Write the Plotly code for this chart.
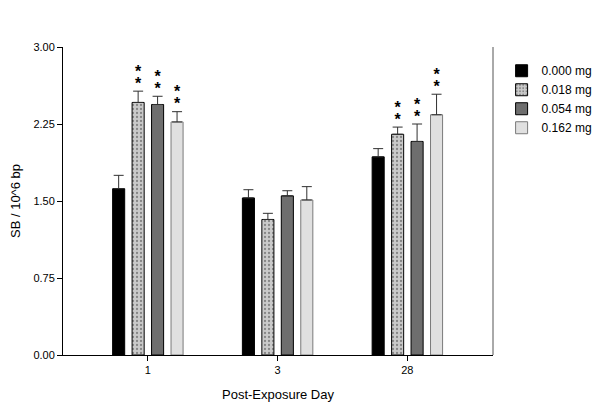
import plotly.graph_objects as go

days = ["1", "3", "28"]
series_names = ["0.000 mg", "0.018 mg", "0.054 mg", "0.162 mg"]
values = [
    [1.62, 1.53, 1.93],
    [2.46, 1.32, 2.15],
    [2.44, 1.55, 2.08],
    [2.27, 1.51, 2.34],
]
errors = [
    [0.13, 0.08, 0.08],
    [0.11, 0.06, 0.07],
    [0.08, 0.05, 0.17],
    [0.10, 0.13, 0.20],
]
# significance markers per series/day (True = two asterisks)
significant = [
    [False, False, False],
    [True, False, True],
    [True, False, True],
    [True, False, True],
]
y_ticks = [0, 0.75, 1.5, 2.25, 3.0]

STAR = "<span style='font-size:16px'><b>*</b></span>"
fills = ["#000000", "#c4c4c4", "#6e6e6e", "#e0e0e0"]
outlines = ["#000000", "#000000", "#000000", "#7a7a7a"]

fig = go.Figure()
for i, name in enumerate(series_names):
    pattern = dict(shape=".", fgcolor="#404040", bgcolor="#cacaca", size=4, solidity=0.25) if i == 1 else None
    fig.add_trace(go.Bar(
        x=days, y=values[i], name=name,
        marker=dict(color=fills[i], line=dict(color=outlines[i], width=1), pattern=pattern),
        error_y=dict(type="data", symmetric=False, array=errors[i], arrayminus=[0] * 3,
                     color="#303030", thickness=1, width=5),
        offsetgroup=str(i),
    ))
for i, name in enumerate(series_names):
    fig.add_trace(go.Scatter(
        x=days, y=[v + e for v, e in zip(values[i], errors[i])],
        text=[STAR + "<br>" + STAR if s else "" for s in significant[i]],
        mode="text", textposition="top center",
        textfont=dict(family="Liberation Sans, Arial", size=9.2, color="#000"),
        offsetgroup=str(i), showlegend=False, hoverinfo="skip", cliponaxis=False,
    ))

fig.update_layout(
    width=592, height=402,
    margin=dict(l=55, r=107, t=39, b=55, autoexpand=False),
    paper_bgcolor="white", plot_bgcolor="white",
    barmode="group", bargap=0.4, bargroupgap=0.38,
    scattermode="group", scattergap=0.4,
    font=dict(family="Liberation Sans, Arial", size=11, color="#000"),
    showlegend=True,
    legend=dict(x=1.02, y=0.97, xanchor="left", yanchor="top", bgcolor="rgba(0,0,0,0)",
                font=dict(size=12), tracegroupgap=0, itemwidth=30),
    xaxis=dict(type="category", range=[-0.654, 2.66], showline=True, linecolor="#000", linewidth=1,
               ticks="outside", ticklen=5, tickcolor="#000", automargin=False,
               tickfont=dict(size=11),
               title=dict(text="Post-Exposure Day", font=dict(size=13), standoff=14)),
    yaxis=dict(range=[0, 3.0], tickvals=y_ticks, tickformat=".2f", showline=True, linecolor="#000",
               linewidth=1, ticks="outside", ticklen=5, tickcolor="#000", showgrid=False, zeroline=False,
               automargin=False, tickfont=dict(size=11),
               title=dict(text="SB / 10^6 bp", font=dict(size=13), standoff=10)),
    shapes=[dict(type="line", xref="paper", yref="paper", x0=1, x1=1, y0=0, y1=1,
                 line=dict(color="#555", width=1))],
)

fig.write_html("out.html")
